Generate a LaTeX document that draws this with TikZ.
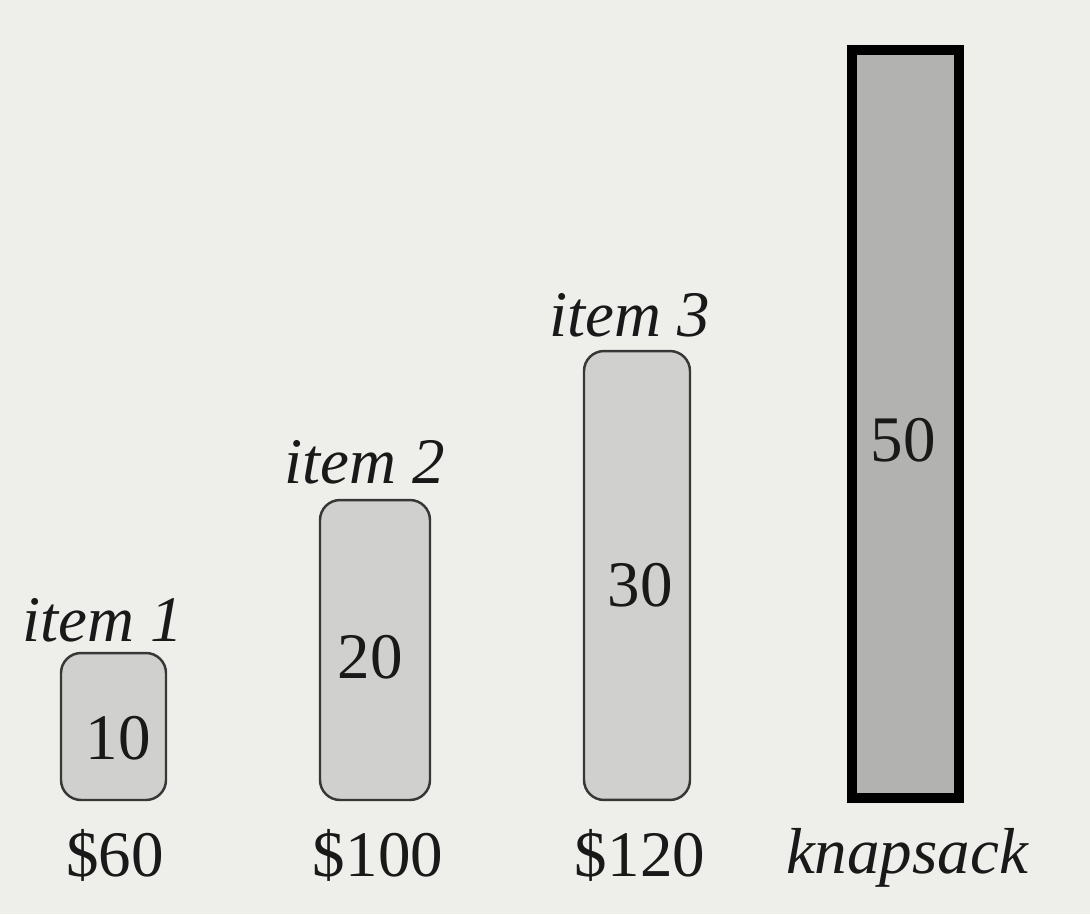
\documentclass[tikz,border=0pt]{standalone}
\usepackage{fontspec}
\setmainfont{Liberation Serif}
\definecolor{paper}{RGB}{238,238,235}
\definecolor{itemfill}{RGB}{208,208,206}
\definecolor{sackfill}{RGB}{178,178,176}
\definecolor{itemline}{RGB}{55,55,55}
\begin{document}
\begin{tikzpicture}[x=0.02cm,y=-0.02cm,
  itembox/.style={draw=itemline,line width=1.4pt,fill=itemfill,rounded corners=0.4cm,inner sep=0pt},
  sackbox/.style={draw=black,line width=0.2cm,fill=sackfill,inner sep=0pt},
  lbl/.style={font=\fontsize{37}{42}\selectfont,inner sep=0pt,text=black!90},
  ilbl/.style={font=\fontsize{37}{42}\selectfont\itshape,inner sep=0pt,text=black!90}]
\fill[paper] (0,0) rectangle (1090,914);
\useasboundingbox (0,0) rectangle (1090,914);
% boxes
\node[itembox,minimum width=2.1cm,minimum height=2.94cm] (b1) at (113.5,726.5) {};
\node[itembox,minimum width=2.2cm,minimum height=6cm] (b2) at (375,650) {};
\node[itembox,minimum width=2.12cm,minimum height=8.98cm] (b3) at (637,575.5) {};
\node[sackbox,minimum width=2.14cm,minimum height=14.96cm] (k) at (905.5,424) {};
% sizes
\node[lbl] (w1) at (118,738) {10};
\node[lbl] (w2) at (370,657) {20};
\node[lbl] (w3) at (640,585) {30};
\node[lbl] (w4) at (903,440) {50};
% names
\node[ilbl] (n1) at (103,620) {item 1};
\node[ilbl] (n2) at (365,462) {item 2};
\node[ilbl] (n3) at (630,315) {item 3};
% values
\node[lbl] (v1) at (115,855) {\$60};
\node[lbl] (v2) at (378,855) {\$100};
\node[lbl] (v3) at (640,855) {\$120};
\node[ilbl] (v4) at (907,858) {knapsack};
\end{tikzpicture}
\end{document}
